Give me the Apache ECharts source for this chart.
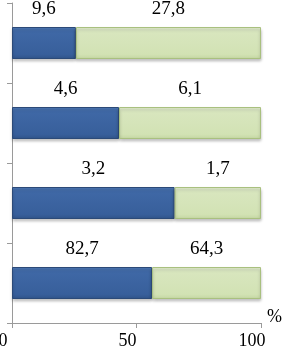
<!DOCTYPE html>
<html>
<head>
<meta charset="utf-8">
<script src="https://cdn.jsdelivr.net/npm/echarts@6/dist/echarts.min.js"></script>
<style>html,body{margin:0;padding:0;background:#fff}#c{width:285px;height:353px}</style>
</head>
<body>
<div id="c"></div>
<script>
// Categories listed top to bottom (unnamed in the reference)
var categories = ['A', 'B', 'C', 'D'];
var blueValues = [9.6, 4.6, 3.2, 82.7];
var greenValues = [27.8, 6.1, 1.7, 64.3];
var xTicks = [0, 50, 100];

var blueShare = blueValues.map(function (v, i) { return v / (v + greenValues[i]) * 100; });
var greenShare = blueShare.map(function (v) { return 100 - v; });

function fmt(v) { return v.toFixed(1).replace('.', ','); }

var chart = echarts.init(document.getElementById('c'));
var labelStyle = {
  show: true, position: 'top', distance: 8,
  fontFamily: 'Liberation Serif', fontSize: 19, color: '#000'
};
chart.setOption({
  animation: false,
  grid: { left: 12, right: 24, top: 3, bottom: 30, containLabel: false, outerBoundsMode: 'none' },
  xAxis: {
    type: 'value', min: 0, max: 100, interval: 50,
    name: '%', nameLocation: 'end', nameGap: 6,
    nameTextStyle: { fontFamily: 'Liberation Serif', fontSize: 18, color: '#000', verticalAlign: 'bottom', padding: [0, 0, -3, 0] },
    axisLine: { show: true, lineStyle: { color: '#9a9a9a', width: 1 } },
    axisTick: { show: true, length: 5, lineStyle: { color: '#9a9a9a' } },
    splitLine: { show: false },
    axisLabel: {
      margin: 9, fontFamily: 'Liberation Serif', fontSize: 18, color: '#000',
      padding: [0, 18, 0, 0],
      formatter: function (v) { return xTicks.indexOf(v) >= 0 ? String(v) : ''; }
    }
  },
  yAxis: {
    type: 'category', data: categories, inverse: true,
    axisLine: { show: true, lineStyle: { color: '#9a9a9a', width: 1 } },
    axisTick: { show: true, length: 5, alignWithLabel: false, lineStyle: { color: '#9a9a9a' } },
    axisLabel: { show: false }
  },
  series: [
    {
      type: 'bar', stack: 's', barWidth: 32,
      data: blueShare,
      itemStyle: {
        color: new echarts.graphic.LinearGradient(0, 0, 0, 1, [
          { offset: 0, color: '#4f7bb9' },
          { offset: 0.15, color: '#3f68a6' },
          { offset: 0.85, color: '#385f9b' },
          { offset: 1, color: '#30548a' }
        ]),
        borderColor: '#2c4a78', borderWidth: 1,
        shadowColor: 'rgba(0,0,0,0.25)', shadowBlur: 3, shadowOffsetY: 2
      },
      label: Object.assign({}, labelStyle, {
        formatter: function (p) { return fmt(blueValues[p.dataIndex]); }
      })
    },
    {
      type: 'bar', stack: 's', barWidth: 32,
      data: greenShare,
      itemStyle: {
        color: new echarts.graphic.LinearGradient(0, 0, 0, 1, [
          { offset: 0, color: '#e6f0d2' },
          { offset: 0.15, color: '#d8e6be' },
          { offset: 0.85, color: '#d2e2b4' },
          { offset: 1, color: '#c4d6a2' }
        ]),
        borderColor: '#a9c07f', borderWidth: 1,
        shadowColor: 'rgba(0,0,0,0.25)', shadowBlur: 3, shadowOffsetY: 2
      },
      label: Object.assign({}, labelStyle, {
        formatter: function (p) { return fmt(greenValues[p.dataIndex]); }
      })
    }
  ]
});
</script>
</body>
</html>
